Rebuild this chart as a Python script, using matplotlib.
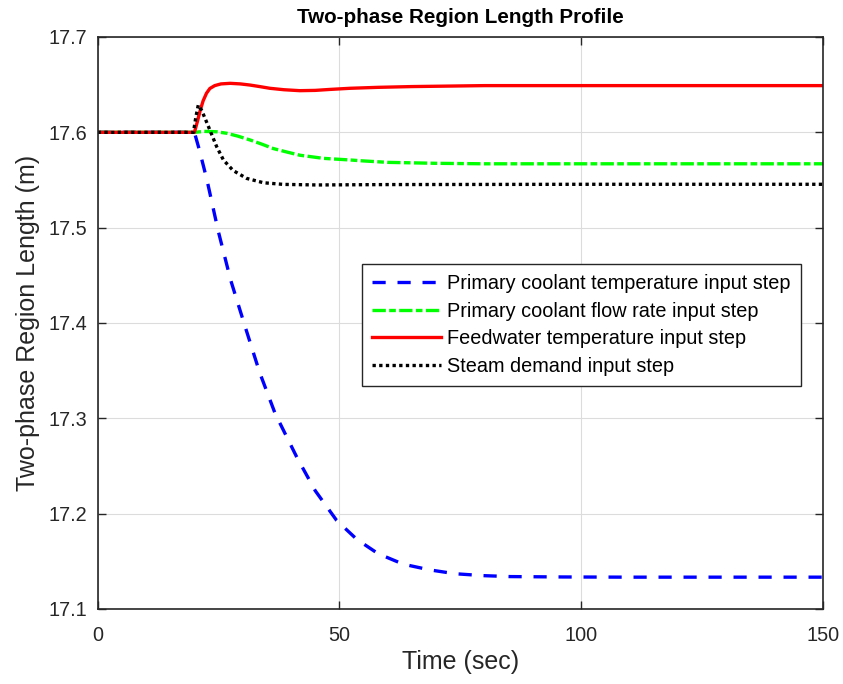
import matplotlib
matplotlib.use("Agg")
import matplotlib.pyplot as plt

plt.rcParams['font.family'] = ['Liberation Sans', 'DejaVu Sans']
plt.rcParams['lines.scale_dashes'] = False

# Primary coolant temperature input step
t_blue = [0, 20, 21, 22.6, 24.9, 27.5, 30.5, 33.5, 36.7, 41.2, 45, 49.4, 53.6,
          58.0, 63.2, 68.7, 73.9, 79.7, 85.3, 96.2, 110, 130, 150]
y_blue = [17.6, 17.6, 17.582, 17.550, 17.497, 17.445, 17.396, 17.348, 17.305,
          17.259, 17.224, 17.193, 17.173, 17.158, 17.147, 17.141, 17.137, 17.135,
          17.134, 17.1336, 17.1334, 17.1334, 17.1334]

# Primary coolant flow rate input step
t_green = [0, 20, 22, 24.6, 26.7, 29, 31.5, 34, 36.3, 39, 41.8, 46.7, 52.2, 55,
           60, 70, 80, 100, 150]
y_green = [17.6, 17.6, 17.601, 17.6006, 17.599, 17.596, 17.592, 17.5875, 17.583,
           17.5795, 17.576, 17.5727, 17.571, 17.570, 17.5685, 17.5675, 17.567,
           17.567, 17.567]

# Feedwater temperature input step
t_red = [0, 20, 20.6, 21.2, 21.8, 22.5, 23.2, 24.2, 25.5, 27.4, 29.5, 31.5, 33.5,
         35.6, 38.5, 41.8, 45, 48, 52.2, 58, 65, 80, 100, 150]
y_red = [17.6, 17.6, 17.611, 17.623, 17.633, 17.641, 17.646, 17.649, 17.6508,
         17.6514, 17.6508, 17.6496, 17.648, 17.6462, 17.6447, 17.6437, 17.6440,
         17.645, 17.6462, 17.6472, 17.648, 17.649, 17.649, 17.649]

# Steam demand input step
t_black = [0, 19.8, 20.3, 20.8, 21.5, 22.2, 23.2, 24.6, 26, 28, 30.8, 34.3, 38.4,
           45.3, 60, 100, 150]
y_black = [17.6, 17.6, 17.616, 17.6286, 17.623, 17.6147, 17.6024, 17.585, 17.571,
           17.560, 17.5517, 17.5471, 17.5454, 17.5448, 17.5452, 17.5455, 17.5455]

labels = ['Primary coolant temperature input step',
          'Primary coolant flow rate input step',
          'Feedwater temperature input step',
          'Steam demand input step']

fig = plt.figure(figsize=(8.43, 6.84), dpi=100)
ax = fig.add_axes([97.7 / 843, 1 - 609 / 684, (823 - 97.7) / 843, (609 - 37) / 684])

lw = 2.4
ax.plot(t_blue, y_blue, color='#0000ff', lw=lw, dashes=(9.5, 8.5), label=labels[0])
ax.plot(t_green, y_green, color='#00ff00', lw=lw, dashes=(9.6, 2.4, 4.8, 2.4), label=labels[1])
ax.plot(t_red, y_red, color='#ff0000', lw=lw, label=labels[2])
ax.plot(t_black, y_black, color='#000000', lw=lw, dashes=(2.4, 2.4), label=labels[3])

ax.set_xlim(0, 150)
ax.set_ylim(17.1, 17.7)
ax.set_xticks([0, 50, 100, 150])
ax.set_yticks([17.1, 17.2, 17.3, 17.4, 17.5, 17.6, 17.7])
ax.set_yticklabels(['17.1', '17.2', '17.3', '17.4', '17.5', '17.6', '17.7'])
ax.grid(True, color='#dcdcdc', lw=0.8)
ax.set_axisbelow(True)
for s in ax.spines.values():
    s.set_color('#262626')
    s.set_linewidth(1.2)
ax.tick_params(direction='in', length=5.5, width=1.0, color='#262626',
               labelsize=14.3, labelcolor='#262626', top=True, right=True)
ax.tick_params(axis='x', pad=12)
ax.tick_params(axis='y', pad=7.5)

ax.set_xlabel('Time (sec)', fontsize=18, color='#262626', labelpad=4)
ax.set_ylabel('Two-phase Region Length (m)', fontsize=18, color='#262626', labelpad=6)
ax.set_title('Two-phase Region Length Profile', fontsize=14.9, fontweight='bold', pad=10)

leg = ax.legend(loc='upper left', bbox_to_anchor=(0.3648, 0.6031), borderaxespad=0,
                fontsize=14.3, fancybox=False, framealpha=1, edgecolor='#262626',
                handlelength=3.47, handletextpad=0.3, labelspacing=0.44,
                borderpad=0.5)
leg.get_frame().set_linewidth(1.0)

fig.savefig('out.png', dpi=100)
